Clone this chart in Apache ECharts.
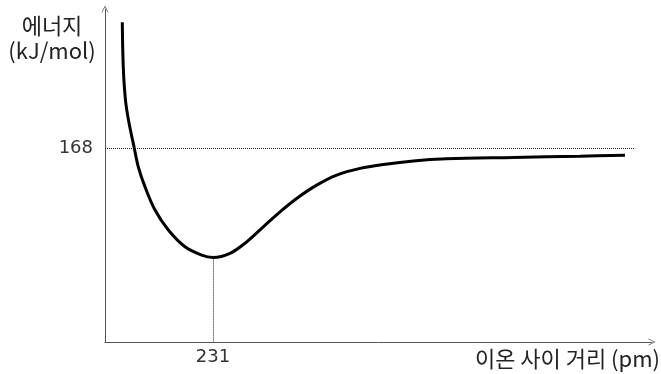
<!DOCTYPE html>
<html>
<head>
<meta charset="utf-8">
<script src="https://cdn.jsdelivr.net/npm/echarts@6/dist/echarts.min.js"></script>
<style>html,body{margin:0;padding:0;background:#fff}#c{width:661px;height:374px}</style>
</head>
<body>
<div id="c"></div>
<script>
// interionic distance (pm) and energy (kJ/mol)
const distance = [37.0, 39.1, 43.8, 50.3, 62.7, 71.2, 85.6, 107.0, 135.5, 171.1, 206.8, 231, 267.4, 303.1, 338.6, 374.3, 410.0, 452.8, 495.6, 545.4, 595.3, 659.4, 730.9, 873.3, 1016.0, 1112.2];
const energy   = [277.0, 238.1, 209.5, 192.2, 167.9, 151.8, 134.4, 114.3, 97.0, 82.5, 75.3, 73.3, 76.8, 86.8, 99.8, 112.8, 124.4, 135.9, 144.6, 150.4, 153.8, 156.9, 158.7, 159.9, 161.0, 161.9];
const yTicks = [168];
const xTicks = [231];
const refEnergy = 168;
const minDistance = 231;
const minEnergy = 73.3;
const refLineEnd = 1134;
const xAxisTitle = '이온 사이 거리 (pm)';
const yAxisTitle = ['에너지', '(kJ/mol)'];

const FONT = '"Noto Sans CJK KR", "Noto Sans", sans-serif';
const NUMFONT = '"DejaVu Sans", sans-serif';
const chevron = 'path://M0,10L5,0L10,10L9,10L5,2L1,10Z';

const chart = echarts.init(document.getElementById('c'));
chart.setOption({
  animation: false,
  grid: { left: 105, right: 9, top: 9, bottom: 32 },
  xAxis: {
    type: 'value', min: 0, max: 1170,
    axisLine: { show: true, lineStyle: { color: '#555', width: 1 }, symbol: ['none', chevron], symbolSize: [7, 8] },
    axisTick: { show: false },
    splitLine: { show: false },
    axisLabel: { customValues: xTicks, color: '#333', fontSize: 18, fontFamily: NUMFONT, margin: 6 }
  },
  yAxis: {
    type: 'value', min: 0, max: 288.5,
    axisLine: { show: true, lineStyle: { color: '#555', width: 1 }, symbol: ['none', chevron], symbolSize: [7, 8] },
    axisTick: { show: false },
    splitLine: { show: false },
    axisLabel: { customValues: yTicks, color: '#333', fontSize: 18, fontFamily: NUMFONT, margin: 12 }
  },
  graphic: [
    { type: 'text', x: 52, y: 26, style: { text: yAxisTitle[0], fontSize: 22, fontFamily: FONT, fill: '#222', align: 'center', verticalAlign: 'middle' } },
    { type: 'text', x: 52, y: 51, style: { text: yAxisTitle[1], fontSize: 22, fontFamily: FONT, fill: '#222', align: 'center', verticalAlign: 'middle' } },
    { type: 'text', x: 660, y: 359, style: { text: xAxisTitle, fontSize: 22, fontFamily: FONT, fill: '#222', align: 'right', verticalAlign: 'middle' } }
  ],
  series: [{
    type: 'line',
    data: distance.map((d, i) => [d, energy[i]]),
    smooth: 0.35,
    showSymbol: false,
    lineStyle: { color: '#000', width: 3 },
    markLine: {
      silent: true,
      symbol: ['none', 'none'],
      label: { show: false },
      lineStyle: { type: 'dotted', color: '#222', width: 1 },
      data: [
        [{ coord: [0, refEnergy] }, { coord: [refLineEnd, refEnergy] }],
        [{ coord: [minDistance, minEnergy] }, { coord: [minDistance, 0] }]
      ]
    }
  }]
});
</script>
</body>
</html>
